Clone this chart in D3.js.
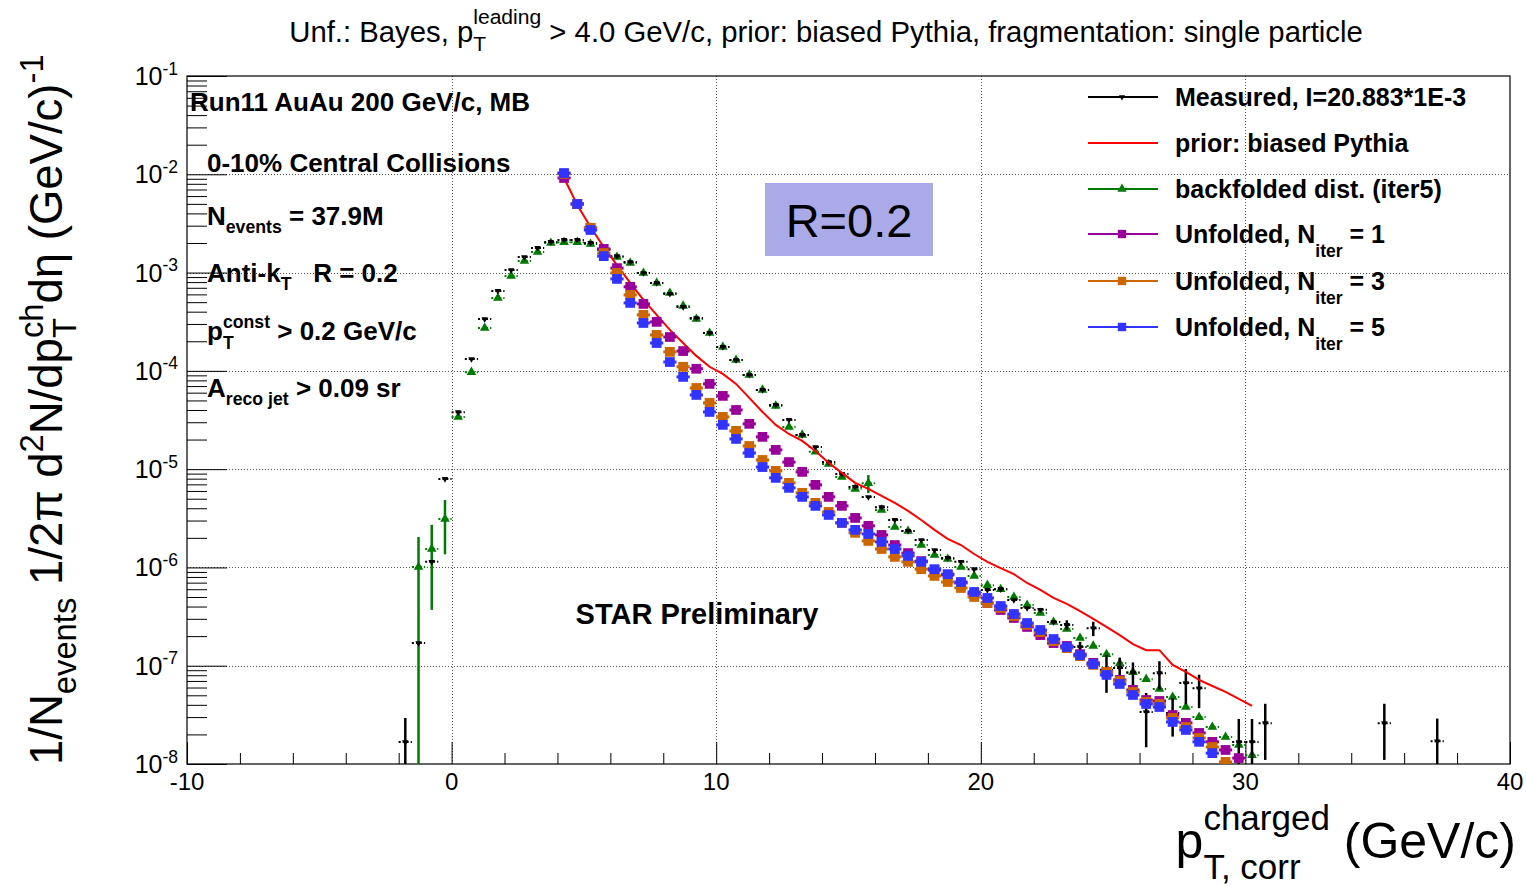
<!DOCTYPE html>
<html><head><meta charset="utf-8">
<script src="https://cdn.jsdelivr.net/npm/d3@7"></script>
<style>
body{margin:0;background:#fff}
svg{display:block}
text{font-family:"Liberation Sans",Arial,Helvetica,sans-serif;white-space:pre}
</style>
</head><body>
<svg id="c" width="1527" height="886"></svg>
<script>
// ---------------- data ----------------
const xDomain = [-10, 40];
const yDomain = [1e-8, 1e-1];
const xMajorTicks = [-10, 0, 10, 20, 30, 40];
const xTickLabels = ["-10", "0", "10", "20", "30", "40"];
const yDecades = [1e-8, 1e-7, 1e-6, 1e-5, 1e-4, 1e-3, 1e-2, 1e-1];
const yTickExponents = ["-8", "-7", "-6", "-5", "-4", "-3", "-2", "-1"];
const binHalfWidth = 0.25;

// Measured (black)
const measX = [-1.75,-1.25,-0.75,-0.25,0.25,0.75,1.25,1.75,2.25,2.75,3.25,3.75,4.25,4.75,5.25,5.75,6.25,6.75,7.25,7.75,
  8.25,8.75,9.25,9.75,10.25,10.75,11.25,11.75,12.25,12.75,13.25,13.75,14.25,14.75,15.25,15.75,16.25,16.75,17.25,17.75,
  18.25,18.75,19.25,19.75,20.25,20.75,21.25,21.75,22.25,22.75,23.25,23.75,24.25,24.75,25.25,25.75,26.25,26.75,27.25,27.75,
  28.25,29.75,30.25,30.75,35.25,37.25];
const measY = [1.67e-8,1.70e-7,1.14e-6,7.95e-6,3.8e-5,1.32e-4,3.37e-4,6.5e-4,1.06e-3,1.44e-3,1.78e-3,2.05e-3,2.15e-3,2.15e-3,2.0e-3,1.74e-3,1.47e-3,1.28e-3,9.9e-4,7.85e-4,
  6.07e-4,4.47e-4,3.45e-4,2.43e-4,1.75e-4,1.29e-4,9.1e-5,6.4e-5,4.5e-5,3.17e-5,2.23e-5,1.68e-5,1.18e-5,8.93e-6,6.6e-6,5.2e-6,4.1e-6,3.04e-6,2.35e-6,1.9e-6,
  1.5e-6,1.25e-6,1.14e-6,9.6e-7,5.9e-7,6.0e-7,4.65e-7,3.86e-7,3.7e-7,2.78e-7,2.6e-7,1.55e-7,2.4e-7,9.1e-8,9.5e-8,8.5e-8,3.38e-8,8.4e-8,3.3e-8,6.67e-8,
  5.9e-8,1.67e-8,1.67e-8,2.6e-8,2.6e-8,1.7e-8];
const measErr = [1.27e-8,0,0,0,0,0,0,0,0,0,0,0,0,0,0,0,0,0,0,0,
  0,0,0,0,0,0,0,0,0,0,0,0,0,0,0,0,0,0,0,0,
  0,0,0,0,0,0,0,0,0,0,3e-8,2e-8,4e-8,3.8e-8,2.6e-8,2.3e-8,1.9e-8,2.7e-8,1.4e-8,2.6e-8,
  2.2e-8,1.2e-8,1.2e-8,1.5e-8,1.5e-8,1.2e-8];

// Backfolded (green)
const backX = [-1.25,-0.75,-0.25,0.25,0.75,1.25,1.75,2.25,2.75,3.25,3.75,4.25,4.75,5.25,5.75,6.25,6.75,7.25,7.75,8.25,
  8.75,9.25,9.75,10.25,10.75,11.25,11.75,12.25,12.75,13.25,13.75,14.25,14.75,15.25,15.75,16.25,16.75,17.25,17.75,18.25,
  18.75,19.25,19.75,20.25,20.75,21.25,21.75,22.25,22.75,23.25,23.75,24.25,24.75,25.25,25.75,26.25,26.75,27.25,27.75,28.25,
  28.75,29.25,29.75,30.25];
const backY = [1.01e-6,1.54e-6,3.11e-6,3.39e-5,9.7e-5,2.73e-4,5.5e-4,9.25e-4,1.31e-3,1.62e-3,2.0e-3,2.04e-3,2.04e-3,1.95e-3,1.7e-3,1.44e-3,1.25e-3,9.9e-4,7.85e-4,6.2e-4,
  4.58e-4,3.37e-4,2.43e-4,1.75e-4,1.29e-4,9.1e-5,6.4e-5,4.4e-5,2.69e-5,2.23e-5,1.5e-5,1.13e-5,8.3e-6,6.3e-6,7.2e-6,3.85e-6,2.58e-6,2.35e-6,1.69e-6,1.34e-6,
  1.22e-6,1.01e-6,8.2e-7,6.6e-7,6.0e-7,5.0e-7,4.15e-7,3.44e-7,2.78e-7,2.36e-7,1.91e-7,1.59e-7,1.31e-7,1.06e-7,8.6e-8,7.3e-8,5.8e-8,4.8e-8,3.8e-8,3.0e-8,
  2.38e-8,1.88e-8,1.56e-8,1.23e-8];
const backErr = [1.03e-6,1.17e-6,1.75e-6,0,0,0,0,0,0,0,0,0,0,0,0,0,0,0,0,0,
  0,0,0,0,0,0,0,0,0,0,0,0,0,0,1.5e-6,0,0,0,0,0,
  0,0,0,0,0,0,0,0,0,0,0,0,0,0,0,0,0,0,0,0,
  0,0,0,0];

// Unfolded / prior bin centres
const unfX = [4.25,4.75,5.25,5.75,6.25,6.75,7.25,7.75,8.25,8.75,9.25,9.75,10.25,10.75,11.25,11.75,12.25,12.75,13.25,13.75,
  14.25,14.75,15.25,15.75,16.25,16.75,17.25,17.75,18.25,18.75,19.25,19.75,20.25,20.75,21.25,21.75,22.25,22.75,23.25,23.75,
  24.25,24.75,25.25,25.75,26.25,26.75,27.25,27.75,28.25,28.75,29.25,29.75,30.25];

const priorY = [9.17e-3,4.88e-3,2.91e-3,1.82e-3,1.19e-3,7.85e-4,5.27e-4,3.71e-4,2.61e-4,1.92e-4,
  1.42e-4,1.10e-4,9.3e-5,7.37e-5,5.31e-5,3.82e-5,2.82e-5,2.28e-5,1.94e-5,1.53e-5,
  1.16e-5,9.17e-6,7.25e-6,6.3e-6,5.35e-6,4.54e-6,3.76e-6,3.04e-6,2.41e-6,1.95e-6,
  1.69e-6,1.37e-6,1.14e-6,9.85e-7,8.54e-7,6.95e-7,5.9e-7,4.89e-7,4.25e-7,3.6e-7,
  2.99e-7,2.48e-7,2.05e-7,1.66e-7,1.44e-7,1.44e-7,1.02e-7,8.64e-8,7.17e-8,6.22e-8,
  5.41e-8,4.59e-8,3.9e-8];

const unf1Y = [9.17e-3,4.99e-3,2.85e-3,1.74e-3,1.11e-3,7.16e-4,4.80e-4,3.15e-4,2.21e-4,1.59e-4,
  1.05e-4,7.37e-5,5.56e-5,4.0e-5,2.89e-5,2.13e-5,1.57e-5,1.18e-5,9.38e-6,6.92e-6,
  5.22e-6,4.23e-6,3.19e-6,2.65e-6,2.14e-6,1.69e-6,1.40e-6,1.16e-6,9.4e-7,8.38e-7,
  6.95e-7,5.37e-7,4.35e-7,3.69e-7,3.06e-7,2.48e-7,2.05e-7,1.70e-7,1.59e-7,1.31e-7,
  1.07e-7,8.64e-8,7.17e-8,5.67e-8,4.48e-8,4.38e-8,3.15e-8,2.62e-8,2.07e-8,1.68e-8,
  1.39e-8,1.15e-8];

const unf3Y = [1.01e-2,4.99e-3,2.85e-3,1.58e-3,9.92e-4,5.93e-4,3.71e-4,2.32e-4,1.56e-4,1.10e-4,
  6.7e-5,4.72e-5,3.40e-5,2.45e-5,1.72e-5,1.24e-5,9.6e-6,7.25e-6,5.74e-6,4.54e-6,
  3.67e-6,2.84e-6,2.25e-6,1.86e-6,1.54e-6,1.28e-6,1.14e-6,9.6e-7,8.19e-7,7.11e-7,
  6.18e-7,5.0e-7,4.35e-7,3.87e-7,3.2e-7,2.6e-7,2.2e-7,1.78e-7,1.51e-7,1.25e-7,
  1.02e-7,8.64e-8,7.0e-8,5.41e-8,4.28e-8,4.08e-8,2.94e-8,2.38e-8,1.84e-8,1.49e-8,
  1.05e-8];

const unf5Y = [1.03e-2,4.99e-3,2.71e-3,1.47e-3,8.62e-4,4.91e-4,3.07e-4,1.92e-4,1.23e-4,8.68e-5,
  5.69e-5,3.82e-5,2.82e-5,2.03e-5,1.46e-5,1.05e-5,8.15e-6,6.45e-6,5.22e-6,4.23e-6,
  3.42e-6,2.84e-6,2.41e-6,2.19e-6,1.82e-6,1.54e-6,1.31e-6,1.14e-6,9.6e-7,8.54e-7,
  7.11e-7,5.63e-7,4.89e-7,4.05e-7,3.36e-7,2.72e-7,2.31e-7,1.87e-7,1.55e-7,1.28e-7,
  1.04e-7,8.06e-8,6.52e-8,5.04e-8,4.08e-8,3.8e-8,2.68e-8,2.22e-8,1.68e-8,1.29e-8];

const legendLabels = [
  [["Measured, I=20.883*1E-3",1,0]],
  [["prior: biased Pythia",1,0]],
  [["backfolded dist. (iter5)",1,0]],
  [["Unfolded, N",1,0],["iter",0.7,0.55],[" = 1",1,0]],
  [["Unfolded, N",1,0],["iter",0.7,0.55],[" = 3",1,0]],
  [["Unfolded, N",1,0],["iter",0.7,0.55],[" = 5",1,0]]
];

// ---------------- setup ----------------
const C = {black:"#000000", red:"#ff0000", green:"#007a00", purple:"#990099", orange:"#cc6600", blue:"#3333ff"};
const F = {left:187, right:1510, top:76, bottom:764};
const svg = d3.select("#c");
const x = d3.scaleLinear().domain(xDomain).range([F.left, F.right]);
const y = d3.scaleLog().domain(yDomain).range([F.bottom, F.top]);

function richText(parent, x0, y0, parts, o) {
  const g = parent.append("g");
  let cx = x0, prevStart = x0;
  parts.forEach(p => {
    const [t, sf, dyf, stack] = p;
    const sx = stack ? prevStart : cx;
    const el = g.append("text").attr("x", sx).attr("y", y0 + dyf * o.size)
      .attr("font-size", o.size * sf).attr("font-weight", o.weight || "normal")
      .attr("fill", o.fill || "#000").text(t);
    const w = el.node().getComputedTextLength();
    if (stack) cx = Math.max(cx, sx + w); else { prevStart = sx; cx = sx + w; }
  });
  const total = cx - x0;
  if (o.anchor === "middle") g.attr("transform", `translate(${-total/2},0)`);
  if (o.anchor === "end") g.attr("transform", `translate(${-total},0)`);
  return g;
}

// ---------------- grid ----------------
const grid = svg.append("g").attr("stroke", "#555").attr("stroke-width", 1).attr("stroke-dasharray", "1,2");
grid.selectAll("line.gx").data(xMajorTicks.slice(1, -1)).join("line")
  .attr("x1", d => Math.round(x(d)) + 0.5).attr("x2", d => Math.round(x(d)) + 0.5)
  .attr("y1", F.top).attr("y2", F.bottom);
grid.selectAll("line.gy").data(yDecades.slice(1, -1)).join("line")
  .attr("y1", d => Math.round(y(d)) + 0.5).attr("y2", d => Math.round(y(d)) + 0.5)
  .attr("x1", F.left).attr("x2", F.right);

// ---------------- axes ----------------
const xMinor = d3.range(-10, 41, 2).filter(v => v % 10 !== 0);
function styleAxis(g){ g.select(".domain").remove(); g.selectAll("line").attr("stroke","#000").attr("stroke-width",1); }
svg.append("g").attr("transform", `translate(0,${F.bottom})`)
  .call(d3.axisBottom(x).tickValues(xMajorTicks).tickSize(-22).tickFormat("")).call(styleAxis);
svg.append("g").attr("transform", `translate(0,${F.bottom})`)
  .call(d3.axisBottom(x).tickValues(xMinor).tickSize(-11).tickFormat("")).call(styleAxis);
const yMinor = y.ticks().filter(v => Math.abs(Math.log10(v) - Math.round(Math.log10(v))) > 1e-6);
svg.append("g").attr("transform", `translate(${F.left},0)`)
  .call(d3.axisLeft(y).tickValues(yDecades).tickSize(-40).tickFormat("")).call(styleAxis);
svg.append("g").attr("transform", `translate(${F.left},0)`)
  .call(d3.axisLeft(y).tickValues(yMinor).tickSize(-20).tickFormat("")).call(styleAxis);

// tick labels
xMajorTicks.forEach((v, i) => {
  svg.append("text").attr("x", x(v)).attr("y", F.bottom + 26).attr("text-anchor", "middle")
    .attr("font-size", 24).text(xTickLabels[i]);
});
yDecades.forEach((v, i) => {
  richText(svg, 178, y(v) + 9, [["10",1,0],[yTickExponents[i],0.7,-0.42]], {size:25, anchor:"end"});
});

// frame
svg.append("rect").attr("x", F.left).attr("y", F.top).attr("width", F.right - F.left).attr("height", F.bottom - F.top)
  .attr("fill", "none").attr("stroke", "#000").attr("stroke-width", 1.2);

// ---------------- annotations ----------------
svg.append("rect").attr("x", 765).attr("y", 183).attr("width", 168).attr("height", 73).attr("fill", "#aaaae8");
svg.append("text").attr("x", 849).attr("y", 237).attr("text-anchor", "middle").attr("font-size", 47).text("R=0.2");

const ann = {size:26, weight:"bold"};
richText(svg, 190, 111, [["Run11 AuAu 200 GeV/c, MB",1,0]], ann);
richText(svg, 207, 172, [["0-10% Central Collisions",1,0]], ann);
richText(svg, 207, 225, [["N",1,0],["events",0.68,0.3],[" = 37.9M",1,0]], ann);
richText(svg, 207, 282, [["Anti-k",1,0],["T",0.68,0.3],["   R = 0.2",1,0]], ann);
richText(svg, 207, 340, [["p",1,0],["T",0.68,0.35],["const",0.68,-0.45,true],[" > 0.2 GeV/c",1,0]], ann);
richText(svg, 207, 397, [["A",1,0],["reco jet",0.68,0.3],[" > 0.09 sr",1,0]], ann);
richText(svg, 697, 624, [["STAR Preliminary",1,0]], {size:29, weight:"bold", anchor:"middle"});

// title
richText(svg, 826, 42, [["Unf.: Bayes, p",1,0],["T",0.72,0.3],["leading",0.72,-0.6,true],[" > 4.0 GeV/c, prior: biased Pythia, fragmentation: single particle",1,0]],
  {size:29.3, anchor:"middle"});

// axis titles
richText(svg, 1516, 858, [["p",1,0],["T, corr",0.7,0.42],["charged",0.7,-0.56,true],[" (GeV/c)",1,0]], {size:50, anchor:"end"});
const yt = svg.append("g").attr("transform", "translate(62,765) rotate(-90)");
richText(yt, 0, 0, [["1/N",1,0],["events",0.72,0.3],[" 1/2\u03c0 d",1,0],["2",0.72,-0.42],["N/dp",1,0],["T",0.72,0.3],["ch",0.72,-0.42,true],["d\u03b7 (GeV/c)",1,0],["-1",0.72,-0.42]], {size:45.5});

// ---------------- data marks ----------------
const defs = svg.append("defs");
defs.append("clipPath").attr("id", "clip").append("rect")
  .attr("x", F.left).attr("y", F.top).attr("width", F.right - F.left).attr("height", F.bottom - F.top);
const plot = svg.append("g").attr("clip-path", "url(#clip)");

function pts(xs, ys, es) { return ys.map((v, i) => ({x: xs[i], v, e: es ? es[i] : 0})).filter(d => d.v != null); }

function drawSeries(data, color, opts) {
  const g = plot.append("g");
  g.selectAll("line.ve").data(data.filter(d => d.e > 0)).join("line")
    .attr("x1", d => x(d.x)).attr("x2", d => x(d.x))
    .attr("y1", d => y(d.v + d.e)).attr("y2", d => y(Math.max(d.v - d.e, 1e-9)))
    .attr("stroke", color).attr("stroke-width", opts.vw || 2.5);
  g.selectAll("line.he").data(data).join("line")
    .attr("x1", d => x(d.x - binHalfWidth)).attr("x2", d => x(d.x + binHalfWidth))
    .attr("y1", d => y(d.v)).attr("y2", d => y(d.v))
    .attr("stroke", color).attr("stroke-width", opts.hw).attr("stroke-dasharray", opts.dash || null);
  g.selectAll("path.m").data(data).join("path")
    .attr("transform", d => `translate(${x(d.x)},${y(d.v)})${opts.rot ? " rotate(180)" : ""}`)
    .attr("d", d3.symbol().type(opts.symbol).size(opts.size))
    .attr("fill", color);
}

drawSeries(pts(backX, backY, backErr), C.green, {symbol: d3.symbolTriangle, size: 40, hw: 2, dash: "2,2", vw: 2.5});
drawSeries(pts(measX, measY, measErr), C.black, {symbol: d3.symbolTriangle, size: 18, hw: 2, dash: "2,2", rot: true, vw: 2.5});

plot.append("path").datum(pts(unfX, priorY))
  .attr("d", d3.line().x(d => x(d.x)).y(d => y(d.v)))
  .attr("fill", "none").attr("stroke", C.red).attr("stroke-width", 2);

drawSeries(pts(unfX, unf1Y), C.purple, {symbol: d3.symbolSquare, size: 95, hw: 3});
drawSeries(pts(unfX, unf3Y), C.orange, {symbol: d3.symbolSquare, size: 95, hw: 3});
drawSeries(pts(unfX, unf5Y), C.blue, {symbol: d3.symbolSquare, size: 95, hw: 3});

// ---------------- legend ----------------
const legendRowsY = [97, 143, 189, 234, 281, 327];
const legendColors = [C.black, C.red, C.green, C.purple, C.orange, C.blue];
const legendSymbols = [d3.symbolTriangle, null, d3.symbolTriangle, d3.symbolSquare, d3.symbolSquare, d3.symbolSquare];
const legendSizes = [16, 0, 38, 70, 70, 70];
const leg = svg.append("g");
legendRowsY.forEach((ly, i) => {
  leg.append("line").attr("x1", 1088).attr("x2", 1158).attr("y1", ly).attr("y2", ly)
    .attr("stroke", legendColors[i]).attr("stroke-width", 2);
  if (legendSymbols[i]) {
    leg.append("path").attr("transform", `translate(1122,${ly})${i === 0 ? " rotate(180)" : ""}`)
      .attr("d", d3.symbol().type(legendSymbols[i]).size(legendSizes[i])).attr("fill", legendColors[i]);
  }
  richText(leg, 1175, ly + 9, legendLabels[i], {size: 25, weight: "bold"});
});
</script>
</body></html>
